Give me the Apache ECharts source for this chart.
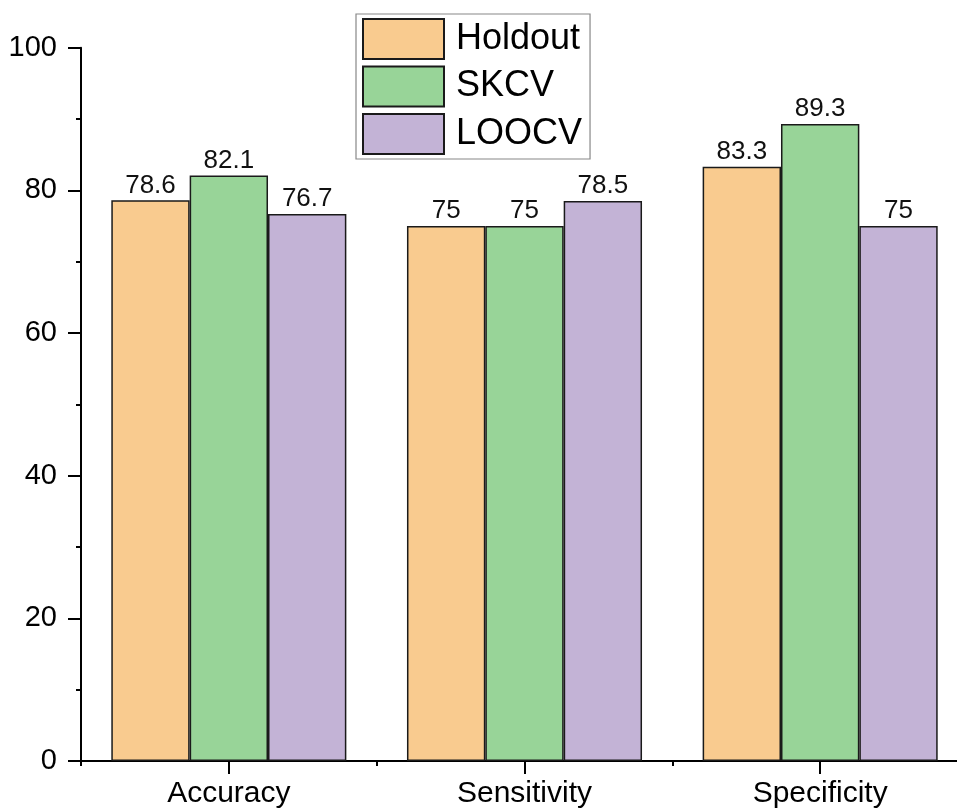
<!DOCTYPE html>
<html>
<head>
<meta charset="utf-8">
<script src="https://cdn.jsdelivr.net/npm/echarts@6/dist/echarts.min.js"></script>
<style>html,body{margin:0;padding:0;background:#fff}#c{width:957px;height:812px}</style>
</head>
<body>
<div id="c"></div>
<script>
const categories = ['Accuracy', 'Sensitivity', 'Specificity'];
const holdout = [78.6, 75, 83.3];
const skcv = [82.1, 75, 89.3];
const loocv = [76.7, 78.5, 75];
const seriesNames = ['Holdout', 'SKCV', 'LOOCV'];
const yTicks = [0, 20, 40, 60, 80, 100];

const colors = ['#F9CB8F', '#98D498', '#C3B3D6'];
const font = 'Arial, "Liberation Sans", sans-serif';
const tickStyle = { color: '#000', width: 2 };

function mkSeries(name, data, color) {
  return {
    name: name, type: 'bar', data: data, xAxisIndex: 0, yAxisIndex: 0,
    barGap: '0%', barCategoryGap: '20.5%',
    itemStyle: { color: color, borderColor: '#1a1a1a', borderWidth: 1.5 },
    label: { show: true, position: 'top', distance: 2, fontSize: 26, color: '#111', fontFamily: font },
    emphasis: { disabled: true }
  };
}

function tickOnlyY(interval, len) {
  return {
    type: 'value', min: yTicks[0], max: yTicks[yTicks.length - 1], interval: interval, position: 'left', offset: 0,
    axisLine: { show: false },
    axisTick: { show: true, inside: false, length: len, lineStyle: tickStyle },
    splitLine: { show: false },
    axisLabel: { show: false }
  };
}

const chart = echarts.init(document.getElementById('c'), null, { renderer: 'canvas' });
chart.setOption({
  animation: false,
  backgroundColor: '#fff',
  grid: { left: 81, top: 47.7, width: 887, height: 713.3, containLabel: false, outerBoundsMode: 'none' },
  legend: {
    data: seriesNames,
    orient: 'vertical',
    left: 356, top: 14,
    itemWidth: 81, itemHeight: 40, itemGap: 5.5,
    padding: [4, 8, 4, 6],
    borderColor: '#888', borderWidth: 1.2,
    icon: 'rect',
    itemStyle: { borderColor: '#1a1a1a', borderWidth: 2 },
    textStyle: { fontSize: 36, color: '#000', fontFamily: font, padding: [0, 0, 0, 7], lineHeight: 40 }
  },
  xAxis: [
    {
      type: 'category', data: categories, position: 'bottom',
      axisLine: { show: true, lineStyle: tickStyle },
      axisTick: { show: false },
      axisLabel: { fontSize: 30, color: '#000', fontFamily: font, margin: 18 }
    },
    {
      type: 'category', data: categories, position: 'bottom', offset: 0,
      axisLine: { show: false },
      axisTick: { show: true, inside: false, interval: 0, alignWithLabel: true, length: 13, lineStyle: tickStyle },
      axisLabel: { show: false }
    },
    {
      type: 'category', data: categories, position: 'bottom', offset: 0,
      axisLine: { show: false },
      axisTick: { show: true, inside: false, interval: 0, length: 5, lineStyle: tickStyle },
      axisLabel: { show: false }
    }
  ],
  yAxis: [
    {
      type: 'value', min: yTicks[0], max: yTicks[yTicks.length - 1], interval: 20,
      axisLine: { show: true, lineStyle: tickStyle },
      axisTick: { show: false },
      splitLine: { show: false },
      axisLabel: { fontSize: 29, color: '#000', fontFamily: font, margin: 24 }
    },
    tickOnlyY(20, 13),
    tickOnlyY(10, 5)
  ],
  series: [
    mkSeries(seriesNames[0], holdout, colors[0]),
    mkSeries(seriesNames[1], skcv, colors[1]),
    mkSeries(seriesNames[2], loocv, colors[2])
  ]
});
</script>
</body>
</html>
